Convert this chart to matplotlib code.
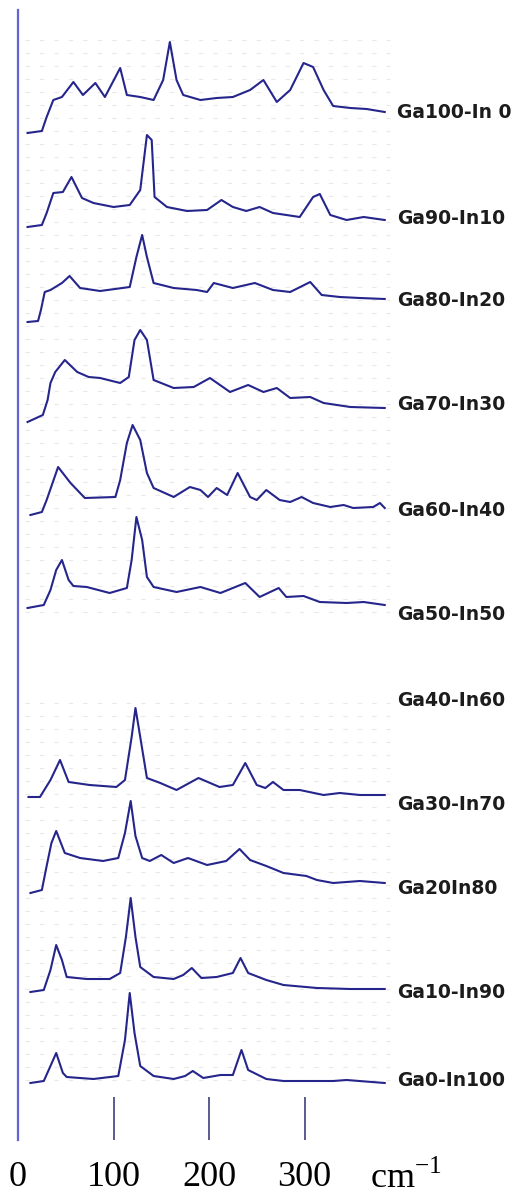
import matplotlib.pyplot as plt
import numpy as np

# Raman shift (cm-1) and intensity (a.u.), top to bottom
x_ga100 = [10, 25, 30, 37, 46, 58, 68, 81, 91, 107, 114, 128, 142, 152, 159, 166, 173,
           191, 208, 225, 243, 257, 271, 285, 299, 309, 320, 330, 348, 365, 384]
i_ga100 = [0, 2, 16, 33, 36, 51, 38, 50, 36, 65, 38, 36, 33, 53, 91, 53, 38,
           33, 35, 36, 43, 53, 31, 43, 70, 66, 43, 27, 25, 24, 21]

x_ga90 = [10, 25, 30, 37, 47, 56, 67, 79, 100, 117, 128, 135, 140, 143, 156, 177, 198,
          213, 225, 239, 253, 267, 295, 309, 316, 327, 344, 362, 384]
i_ga90 = [0, 2, 14, 34, 35, 50, 29, 24, 20, 22, 37, 92, 87, 30, 20, 16, 17,
          27, 20, 16, 20, 14, 10, 30, 33, 12, 7, 10, 7]

x_ga80 = [10, 21, 24, 28, 34, 46, 54, 65, 86, 117, 124, 130, 135, 142, 163, 187, 198,
          205, 225, 248, 267, 285, 306, 318, 337, 358, 384]
i_ga80 = [0, 1, 12, 30, 32, 39, 46, 34, 31, 35, 65, 87, 65, 39, 34, 32, 30,
          39, 34, 39, 32, 30, 40, 27, 25, 24, 23]

x_ga70 = [10, 26, 31, 34, 39, 49, 62, 74, 86, 107, 116, 122, 128, 135, 142, 163, 184,
          201, 222, 241, 257, 271, 285, 306, 320, 348, 384]
i_ga70 = [0, 7, 22, 39, 50, 62, 50, 45, 44, 39, 45, 82, 92, 82, 42, 34, 35,
          44, 30, 37, 30, 34, 24, 25, 19, 15, 14]

x_ga60 = [13, 25, 30, 42, 55, 62, 70, 102, 107, 114, 120, 128, 135, 142, 163, 180, 191,
          199, 208, 219, 230, 243, 250, 260, 274, 285, 297, 309, 327, 341, 351, 372, 379, 384]
i_ga60 = [0, 3, 15, 48, 32, 25, 17, 18, 35, 72, 90, 75, 42, 27, 18, 28, 25,
          18, 27, 20, 42, 18, 15, 25, 15, 13, 18, 12, 8, 10, 7, 8, 12, 7]

x_ga50 = [10, 27, 34, 40, 46, 53, 58, 72, 96, 114, 119, 124, 130, 135, 142, 166, 191,
          212, 238, 253, 273, 281, 299, 316, 344, 362, 384]
i_ga50 = [0, 3, 18, 38, 48, 28, 22, 21, 15, 20, 48, 91, 68, 31, 21, 16, 21,
          15, 25, 11, 20, 11, 12, 6, 5, 6, 3]

x_ga30 = [11, 23, 34, 44, 53, 75, 103, 112, 119, 123, 128, 135, 149, 166, 189, 211, 225,
          238, 250, 259, 267, 278, 295, 320, 337, 358, 384]
i_ga30 = [0, 0, 17, 37, 15, 12, 10, 17, 60, 89, 60, 19, 14, 7, 19, 10, 12,
          34, 12, 9, 15, 7, 7, 2, 4, 2, 2]

x_ga20 = [13, 25, 30, 35, 40, 49, 65, 89, 105, 112, 118, 123, 130, 138, 150, 163, 178,
          198, 218, 232, 243, 260, 278, 302, 313, 330, 358, 384]
i_ga20 = [0, 3, 27, 50, 62, 40, 35, 32, 35, 60, 92, 57, 35, 32, 38, 30, 35,
          28, 32, 44, 33, 27, 20, 17, 13, 10, 12, 10]

x_ga10 = [13, 27, 34, 40, 46, 51, 72, 96, 107, 113, 118, 123, 128, 142, 163, 173, 182,
          192, 208, 225, 233, 241, 260, 278, 313, 348, 384]
i_ga10 = [0, 2, 22, 47, 32, 15, 13, 13, 19, 55, 94, 55, 25, 15, 13, 17, 24,
          14, 15, 19, 34, 19, 12, 7, 4, 3, 3]

x_ga0 = [13, 27, 34, 40, 47, 51, 79, 105, 112, 117, 122, 128, 142, 163, 175, 183, 194,
         212, 225, 234, 241, 260, 278, 330, 344, 384]
i_ga0 = [0, 2, 17, 30, 10, 6, 4, 7, 43, 90, 50, 17, 7, 4, 7, 12, 5,
         8, 8, 33, 13, 4, 2, 2, 3, 0]

labels = ["Ga100-In 0", "Ga90-In10", "Ga80-In20", "Ga70-In30", "Ga60-In40", "Ga50-In50",
          "Ga40-In60", "Ga30-In70", "Ga20In80", "Ga10-In90", "Ga0-In100"]
# Ga40-In60 is labelled in the figure but has no trace
traces = [(x_ga100, i_ga100), (x_ga90, i_ga90), (x_ga80, i_ga80), (x_ga70, i_ga70),
          (x_ga60, i_ga60), (x_ga50, i_ga50), None, (x_ga30, i_ga30),
          (x_ga20, i_ga20), (x_ga10, i_ga10), (x_ga0, i_ga0)]
tick_values = [0, 100, 200, 300]

# stacking offsets and label heights (a.u.)
offsets = [1071, 977, 882, 782, 689, 596, None, 407, 311, 212, 121]
label_y = [1091, 986, 904, 799, 693, 589, 504, 399, 316, 212, 124]

W, H = 519, 1204
fig = plt.figure(figsize=(W / 100, H / 100), dpi=100)
ax = fig.add_axes([18 / W, (H - 1140) / H, (W - 18) / W, (1140 - 10) / H])
ax.set_xlim(0, (W - 18) / 0.955)
ax.set_ylim(H - 1140, H - 10)

# faint dotted background rows
rows = np.concatenate([np.arange(40, 620, 13), np.arange(703, 1092, 13)])
ax.hlines(H - rows, 7, 390, color="#e9e9e9", lw=0.8, linestyles=(0, (4, 9)), zorder=0)

line_color = "#25258c"
for tr, off in zip(traces, offsets):
    if tr is None:
        continue
    x, y = tr
    ax.plot(x, np.asarray(y) + off, color=line_color, lw=1.5, zorder=2)

for lab, ly in zip(labels, label_y):
    ax.text(397, ly, lab, ha="left", va="center", fontsize=13.5, fontweight="bold",
            family="DejaVu Sans", color="#1c1c1c")

# axes styling: only the left line and the bottom ticks
for s in ["top", "right", "bottom"]:
    ax.spines[s].set_visible(False)
ax.spines["left"].set_color("#6464d8")
ax.spines["left"].set_linewidth(1.6)
ax.set_yticks([])

ax.set_xticks(tick_values + [406])
ax.set_xticklabels([str(v) for v in tick_values] + [r"cm$^{\mathregular{-1}}$"],
                   family="Liberation Serif", fontsize=26)
ax.tick_params(axis="x", direction="in", length=31, width=1.1, color="#2e2e70", pad=15)
ax.xaxis.get_major_ticks()[-1].tick1line.set_visible(False)

fig.savefig("out.png", dpi=100)
